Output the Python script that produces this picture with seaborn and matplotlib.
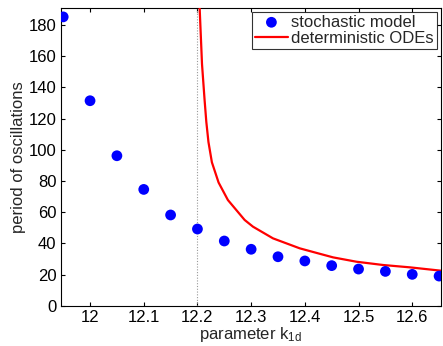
import matplotlib
matplotlib.use("Agg")
import matplotlib.pyplot as plt
import seaborn as sns
import pandas as pd

k_stoch = [11.95, 12.0, 12.05, 12.1, 12.15, 12.2, 12.25, 12.3, 12.35, 12.4, 12.45, 12.5, 12.55, 12.6, 12.65]
period_stoch = [185.3, 131.5, 96.2, 74.6, 58.2, 49.2, 41.5, 36.2, 31.4, 28.7, 25.7, 23.5, 22.0, 20.1, 19.0]

k_ode = [12.2035, 12.2085, 12.2133, 12.2165, 12.2205, 12.2269, 12.2394, 12.2567, 12.2879, 12.3034, 12.3407,
         12.3905, 12.4246, 12.4526, 12.4963, 12.5459, 12.5957, 12.655]
period_ode = [196, 155, 132, 118, 105, 92, 79, 67.8, 55.0, 50.7, 43.2,
              36.8, 33.6, 31.0, 28.2, 26.1, 24.6, 22.4]

x_ticks = [12.0, 12.1, 12.2, 12.3, 12.4, 12.5, 12.6]
x_tick_labels = ["12", "12.1", "12.2", "12.3", "12.4", "12.5", "12.6"]
y_ticks = [0, 20, 40, 60, 80, 100, 120, 140, 160, 180]

sns.set_style("ticks")
plt.rcParams['font.family'] = ['Liberation Sans', 'DejaVu Sans']
plt.rcParams['mathtext.fontset'] = 'custom'
plt.rcParams['mathtext.rm'] = 'Liberation Sans'
plt.rcParams['mathtext.it'] = 'Liberation Sans'

df_s = pd.DataFrame({"k": k_stoch, "period": period_stoch})
df_o = pd.DataFrame({"k": k_ode, "period": period_ode})

FS = 12

fig = plt.figure(figsize=(4.43, 3.46), dpi=100)
ax = fig.add_axes([0.1366, 0.1165, 0.8582, 0.8604])

ax.axvline(12.2, color="#999999", linestyle=(0, (1, 1.5)), linewidth=0.8, zorder=1)
sns.lineplot(data=df_o, x="k", y="period", ax=ax, color="#ff0000", linewidth=1.6,
             label="deterministic ODEs", zorder=3, sort=False)
sns.scatterplot(data=df_s, x="k", y="period", ax=ax, color="#0000ff", s=60,
                edgecolor="none", label="stochastic model", zorder=4)

ax.set_xlim(11.945, 12.653)
ax.set_ylim(0, 191)
ax.set_xticks(x_ticks)
ax.set_xticklabels(x_tick_labels)
ax.set_yticks(y_ticks)
ax.tick_params(direction="in", top=True, right=True, labelsize=FS, length=3, width=0.8,
               colors="black", pad=3)
for sp in ax.spines.values():
    sp.set_visible(True)
    sp.set_linewidth(0.8)
    sp.set_color("black")
ax.set_xlabel("parameter k$_{\\mathrm{1d}}$", fontsize=FS, labelpad=0)
ax.set_ylabel("period of oscillations", fontsize=FS, labelpad=2)

h, l = ax.get_legend_handles_labels()
order = [l.index("stochastic model"), l.index("deterministic ODEs")]
leg = ax.legend([h[i] for i in order], [l[i] for i in order], loc="upper right",
                fontsize=FS, frameon=True, fancybox=False, edgecolor="black",
                borderaxespad=0.25, handlelength=2.0, handletextpad=0.2, borderpad=0.15,
                labelspacing=0.1)
leg.get_frame().set_linewidth(0.8)

fig.savefig("out.png", dpi=100)
